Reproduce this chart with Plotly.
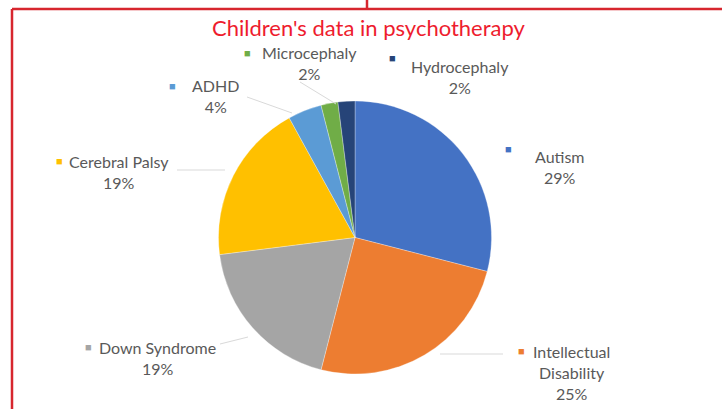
import plotly.graph_objects as go

W, H = 722, 409

# data
labels = ["Autism", "Intellectual Disability", "Down Syndrome", "Cerebral Palsy",
          "ADHD", "Microcephaly", "Hydrocephaly"]
values = [29, 25, 19, 19, 4, 2, 2]
colors = ["#4472C4", "#ED7D31", "#A5A5A5", "#FFC000", "#5B9BD5", "#70AD47", "#264478"]

# label placement (pixels): marker x,y and text centre x,y
label_text = ["Autism", "Intellectual<br>Disability", "Down Syndrome", "Cerebral Palsy",
              "ADHD", "Microcephaly", "Hydrocephaly"]
marker_pos = [(508, 148), (521, 350), (88, 346), (59, 160), (172, 85), (247, 52), (392, 58)]
text_pos = [(560, 167), (571, 372), (157, 358), (119, 172), (216, 96), (309, 63), (460, 77)]


def px(x, y):
    return x / W, 1 - y / H


fig = go.Figure(go.Pie(
    labels=labels,
    values=values,
    marker=dict(colors=colors, line=dict(color="rgba(255,255,255,0.6)", width=0.5)),
    sort=False,
    direction="clockwise",
    rotation=0,
    textinfo="none",
    hoverinfo="label+percent",
    showlegend=False,
    domain=dict(x=[215 / W, 495 / W], y=[1 - 374 / H, 1 - 101 / H]),
))

annotations = []
total = sum(values)
for name, val, col, (mx, my), (tx, ty) in zip(label_text, values, colors, marker_pos, text_pos):
    pct = round(100 * val / total)
    x, y = px(tx, ty)
    annotations.append(dict(
        x=x, y=y, xref="paper", yref="paper", showarrow=False,
        xanchor="center", yanchor="middle",
        text=f"{name}<br>{pct}%", align="center",
        font=dict(family="Lato, Open Sans, sans-serif", size=16, color="#595959"),
    ))
    x, y = px(mx, my)
    annotations.append(dict(
        x=x, y=y, xref="paper", yref="paper", showarrow=False,
        xanchor="center", yanchor="middle",
        text="■", font=dict(size=11, color=col),
    ))

annotations.append(dict(
    x=369 / W, y=1 - 28 / H, xref="paper", yref="paper", showarrow=False,
    xanchor="center", yanchor="middle",
    text="Children's data in psychotherapy",
    font=dict(family="Lato, Open Sans, sans-serif", size=22, color="#EE1C2E"),
))

shapes = [
    # red frame
    dict(type="line", xref="paper", yref="paper", x0=12 / W, x1=1.01, y0=1 - 9 / H, y1=1 - 9 / H,
         line=dict(color="#D7262E", width=2.5)),
    dict(type="line", xref="paper", yref="paper", x0=12 / W, x1=12 / W, y0=1 - 9 / H, y1=-0.01,
         line=dict(color="#D7262E", width=2.5)),
    dict(type="line", xref="paper", yref="paper", x0=367 / W, x1=367 / W, y0=1.01, y1=1 - 9 / H,
         line=dict(color="#D7262E", width=2.5)),
]
# faint leader lines
leaders = [((247, 97), (292, 113)), ((177, 170), (225, 170)), ((220, 344), (248, 337)),
           ((440, 354), (503, 354)), ((300, 82), (336, 104))]
for (x0, y0), (x1, y1) in leaders:
    a, b = px(x0, y0)
    c, d = px(x1, y1)
    shapes.append(dict(type="line", xref="paper", yref="paper", x0=a, y0=b, x1=c, y1=d,
                       line=dict(color="#D9D9D9", width=1)))

fig.update_layout(
    width=W, height=H,
    margin=dict(l=0, r=0, t=0, b=0),
    paper_bgcolor="white",
    plot_bgcolor="white",
    annotations=annotations,
    shapes=shapes,
)

fig.write_html("out.html", config={"displayModeBar": False},
               post_script="document.body.style.margin='0';")
